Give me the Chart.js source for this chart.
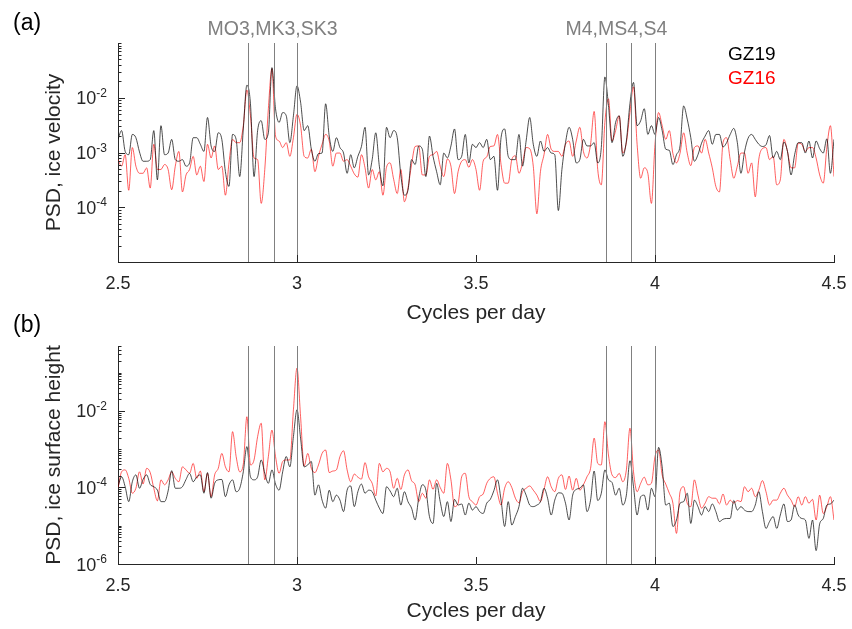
<!DOCTYPE html>
<html>
<head>
<meta charset="utf-8">
<script src="https://cdn.jsdelivr.net/npm/chart.js@4.4.1/dist/chart.umd.min.js"></script>
<style>
  html, body { margin: 0; padding: 0; background: #fff; }
  #wrap { position: relative; width: 852px; height: 629px; overflow: hidden; }
  canvas { position: absolute; left: 0; }
  #velCanvas { top: 0; }
  #hgtCanvas { top: 300px; }
</style>
</head>
<body>
<div id="wrap">
  <canvas id="velCanvas" width="852" height="330"></canvas>
  <canvas id="hgtCanvas" width="852" height="329"></canvas>
</div>
<script>
// ── Frequency grid (cycles per day) ──────────────────────────────
const FREQ_START = 2.5, FREQ_STEP = 0.01, N_FREQ = 201;
const freqs = Array.from({ length: N_FREQ }, (_, i) => +(FREQ_START + i * FREQ_STEP).toFixed(2));

// ── log10(PSD) ───────────────────────────────────────────────────
// (a) ice velocity
const velGZ19 = [
  -2.76,-2.60,-2.98,-3.04,-2.67,-2.73,-2.99,-3.16,-3.16,-3.13,
  -2.60,-3.50,-2.51,-3.04,-3.01,-2.76,-3.13,-3.16,-3.13,-3.25,
  -3.19,-2.73,-2.73,-2.85,-2.98,-2.36,-2.88,-2.98,-2.64,-2.76,
  -3.35,-3.62,-2.67,-2.76,-3.44,-2.57,-1.77,-2.11,-3.44,-2.60,
  -2.42,-2.76,-2.64,-1.45,-2.20,-2.45,-2.27,-2.33,-2.82,-2.33,
  -1.78,-2.08,-2.60,-2.51,-2.94,-3.16,-3.02,-3.01,-2.11,-2.70,
  -2.98,-2.73,-2.91,-3.01,-3.38,-3.04,-3.28,-3.07,-2.89,-2.54,
  -3.41,-3.13,-2.64,-3.25,-3.61,-2.54,-2.73,-2.60,-2.73,-3.41,
  -3.78,-3.69,-3.13,-3.22,-2.88,-2.94,-3.44,-2.70,-3.07,-3.35,
  -3.59,-3.01,-3.10,-2.88,-2.57,-3.13,-3.07,-2.67,-3.19,-2.85,
  -2.91,-2.82,-2.91,-2.76,-3.13,-3.07,-3.69,-2.73,-2.57,-3.07,
  -3.13,-3.13,-2.67,-3.25,-2.79,-2.36,-2.85,-3.07,-2.79,-2.98,
  -2.91,-3.01,-3.04,-4.06,-3.31,-2.82,-2.54,-2.76,-3.19,-3.13,
  -2.76,-2.88,-2.88,-2.82,-3.19,-2.91,-1.62,-2.14,-2.82,-2.45,
  -2.33,-3.07,-2.79,-2.11,-1.72,-2.51,-2.42,-2.20,-2.67,-2.51,
  -2.67,-2.36,-2.60,-2.94,-2.96,-3.22,-3.04,-2.88,-2.15,-2.39,
  -2.73,-3.16,-3.04,-2.83,-2.70,-2.60,-2.85,-2.67,-2.67,-2.90,
  -2.82,-2.67,-2.56,-2.82,-3.38,-2.99,-2.74,-2.67,-2.76,-2.85,
  -2.89,-2.86,-2.69,-3.10,-2.98,-3.13,-2.81,-2.98,-3.41,-3.04,
  -2.82,-2.82,-3.01,-2.79,-3.10,-2.79,-2.93,-3.01,-2.75,-3.38,
  -2.76
];
const velGZ16 = [
  -3.13,-3.25,-3.04,-3.69,-2.91,-3.25,-3.38,-3.38,-3.28,-3.65,
  -2.85,-3.31,-3.31,-3.22,-3.31,-3.68,-3.25,-2.98,-3.72,-3.41,
  -3.31,-3.07,-3.41,-3.25,-3.53,-2.85,-3.10,-2.88,-3.31,-3.25,
  -3.78,-3.19,-2.76,-2.82,-2.82,-2.51,-1.86,-2.33,-3.10,-3.13,
  -3.93,-3.31,-2.20,-1.47,-2.70,-2.79,-2.91,-2.82,-3.07,-2.73,
  -2.30,-2.51,-3.07,-3.10,-2.94,-3.35,-3.07,-2.85,-2.67,-2.79,
  -3.25,-3.01,-3.01,-3.16,-3.13,-3.25,-3.39,-3.45,-3.04,-3.28,
  -3.65,-3.31,-3.50,-3.35,-3.78,-3.27,-3.19,-3.49,-3.75,-3.31,
  -3.90,-3.65,-3.22,-2.89,-2.88,-3.41,-3.41,-3.07,-3.04,-2.98,
  -3.25,-3.44,-3.12,-3.25,-3.75,-3.35,-3.16,-3.13,-3.27,-3.13,
  -3.31,-3.69,-3.16,-3.08,-2.89,-2.88,-2.67,-3.22,-3.56,-3.56,
  -3.13,-3.06,-3.38,-3.19,-2.91,-2.93,-3.25,-4.12,-3.35,-3.04,
  -2.67,-2.94,-2.98,-2.98,-3.07,-2.85,-2.79,-3.07,-2.79,-2.54,
  -2.98,-3.10,-2.85,-2.25,-3.31,-3.59,-2.45,-2.02,-2.79,-2.60,
  -2.33,-3.01,-2.82,-2.27,-1.80,-2.85,-3.47,-3.28,-3.38,-3.93,
  -2.85,-2.27,-2.51,-2.76,-2.60,-3.02,-3.19,-3.01,-2.64,-3.01,
  -3.24,-2.91,-2.88,-3.01,-2.76,-3.01,-3.28,-3.62,-3.72,-2.82,
  -2.73,-3.13,-3.47,-3.25,-3.01,-3.01,-3.38,-3.19,-3.81,-3.12,
  -2.93,-2.91,-3.13,-3.07,-3.59,-3.50,-2.76,-2.98,-3.28,-3.28,
  -2.83,-2.85,-2.98,-2.91,-2.91,-3.10,-3.41,-3.56,-2.91,-2.51,
  -3.44
];
// (b) ice surface height
const hgtGZ19 = [
  -3.98,-3.72,-3.98,-4.37,-3.85,-3.67,-4.02,-3.79,-3.67,-3.92,
  -3.98,-4.07,-4.37,-4.37,-4.09,-3.56,-4.02,-4.02,-3.98,-3.79,
  -3.63,-3.85,-3.72,-3.67,-4.15,-3.61,-4.28,-3.89,-3.80,-3.79,
  -4.24,-3.93,-3.80,-4.11,-4.02,-3.59,-2.93,-3.72,-3.80,-3.72,
  -3.28,-3.63,-3.89,-3.54,-3.91,-4.07,-3.59,-3.19,-3.46,-2.67,
  -1.97,-2.71,-3.46,-3.41,-3.32,-4.20,-3.93,-4.33,-4.54,-4.07,
  -4.37,-4.20,-4.33,-4.63,-4.07,-3.96,-4.50,-4.11,-3.91,-4.15,
  -4.07,-4.11,-4.33,-4.54,-4.68,-3.98,-4.09,-4.24,-4.02,-4.46,
  -4.11,-4.37,-4.54,-4.85,-4.28,-3.93,-4.07,-4.76,-4.94,-3.89,
  -4.37,-4.76,-4.37,-4.89,-4.31,-4.46,-4.43,-4.72,-4.41,-4.59,
  -4.50,-4.63,-4.68,-4.41,-4.31,-4.08,-3.80,-4.33,-5.02,-4.37,
  -4.98,-4.76,-4.50,-4.02,-4.20,-4.46,-4.50,-4.46,-4.37,-4.02,
  -4.28,-4.72,-4.33,-4.14,-4.15,-4.41,-4.85,-4.20,-4.05,-4.02,
  -3.93,-4.63,-4.33,-3.57,-4.34,-4.15,-3.54,-3.80,-3.87,-4.20,
  -4.02,-4.46,-4.20,-3.30,-3.98,-4.72,-4.24,-4.20,-4.59,-4.02,
  -4.24,-2.95,-3.46,-4.46,-4.41,-5.02,-4.85,-4.41,-4.37,-4.15,
  -4.94,-4.33,-4.50,-4.72,-4.50,-4.63,-4.43,-4.63,-4.89,-4.83,
  -4.81,-4.81,-4.34,-4.59,-4.50,-4.59,-4.63,-4.63,-4.46,-4.11,
  -4.63,-5.07,-4.89,-4.76,-5.07,-4.72,-4.43,-4.89,-4.85,-4.46,
  -4.72,-4.81,-4.85,-5.33,-4.85,-5.65,-4.95,-4.81,-4.46,-4.43,
  -4.33
];
const hgtGZ16 = [
  -4.02,-3.59,-3.54,-3.76,-4.15,-4.02,-3.59,-3.91,-3.50,-3.61,
  -4.02,-4.35,-3.80,-3.93,-3.80,-3.59,-3.76,-3.85,-3.46,-3.54,
  -3.63,-3.37,-3.76,-3.57,-4.11,-3.63,-4.24,-3.67,-3.50,-3.11,
  -3.46,-3.59,-2.54,-3.19,-3.59,-3.39,-2.15,-3.41,-3.28,-2.67,
  -2.32,-3.80,-3.19,-2.50,-3.19,-3.63,-3.32,-3.28,-3.28,-1.97,
  -0.88,-2.15,-3.44,-3.11,-3.50,-3.61,-3.41,-3.11,-3.02,-3.61,
  -3.57,-3.54,-3.19,-3.04,-3.54,-3.85,-3.65,-3.73,-3.78,-3.35,
  -3.72,-3.89,-4.22,-3.37,-3.59,-3.50,-3.59,-4.02,-3.76,-4.05,
  -3.67,-3.54,-3.82,-3.93,-4.37,-4.15,-4.28,-3.80,-4.05,-3.80,
  -4.00,-4.15,-3.37,-3.80,-4.50,-4.41,-3.72,-3.63,-4.24,-4.37,
  -4.46,-4.24,-4.17,-3.89,-3.76,-3.72,-4.15,-4.46,-4.02,-3.85,
  -4.00,-4.28,-4.40,-4.11,-4.02,-3.96,-4.07,-4.20,-4.37,-4.05,
  -3.72,-3.98,-4.11,-3.76,-3.67,-4.05,-3.70,-4.07,-3.76,-4.07,
  -3.93,-3.72,-3.50,-2.71,-3.37,-3.41,-2.28,-3.15,-3.67,-3.74,
  -3.63,-3.85,-3.54,-2.45,-3.59,-4.11,-3.89,-3.73,-3.93,-3.89,
  -3.19,-3.02,-3.67,-3.91,-4.15,-4.41,-5.20,-4.11,-3.98,-4.41,
  -4.50,-3.80,-4.20,-4.54,-4.41,-4.24,-4.28,-4.28,-4.43,-4.17,
  -4.46,-4.33,-4.41,-4.34,-4.37,-3.98,-4.11,-4.02,-4.24,-4.07,
  -3.82,-4.11,-4.46,-4.33,-4.33,-4.15,-4.02,-4.20,-4.33,-4.50,
  -4.24,-4.46,-4.24,-4.41,-4.31,-4.85,-4.20,-4.68,-4.50,-4.24,
  -4.85
];

// ── Tidal constituents, ticks, labels ────────────────────────────
const tideFreqs = [2.8632, 2.9350, 3.0, 3.8640, 3.9318, 4.0];
const tideLabels = ['MO3,MK3,SK3', 'M4,MS4,S4'];
const tideLabelFreqs = [2.75, 3.75];
const xTicks = [2.5, 3, 3.5, 4, 4.5];
const velExpLabels = [-4, -3, -2];
const hgtExpLabels = [-6, -4, -2];
const seriesNames = ['GZ19', 'GZ16'];

const AXIS = '#262626';
const FONT = '"Liberation Sans", Arial, sans-serif';
Chart.defaults.font.family = FONT;

const toPoints = (vals) => freqs.map((f, i) => ({ x: f, y: Math.pow(10, vals[i]) }));

// ── Plugin: tidal lines, inward ticks, superscript labels, text ──
const decor = {
    id: 'decor',
    afterDatasetsDraw(chart, args, opts) {
        const { ctx, chartArea: a, scales: { x, y } } = chart;
        ctx.save();

        // tidal constituent lines
        ctx.strokeStyle = '#808080';
        ctx.lineWidth = 1;
        for (const f of tideFreqs) {
            const px = Math.round(x.getPixelForValue(f)) + 0.5;
            ctx.beginPath(); ctx.moveTo(px, a.top); ctx.lineTo(px, a.bottom); ctx.stroke();
        }

        // inward ticks
        ctx.strokeStyle = AXIS;
        for (const v of xTicks) {
            const px = Math.round(x.getPixelForValue(v)) + 0.5;
            ctx.beginPath(); ctx.moveTo(px, a.bottom); ctx.lineTo(px, a.bottom - 7); ctx.stroke();
        }
        const lo = Math.floor(Math.log10(y.min)), hi = Math.ceil(Math.log10(y.max));
        for (let d = lo; d <= hi; d++) {
            for (let m = 1; m < 10; m++) {
                const v = m * Math.pow(10, d);
                if (v < y.min * 0.999 || v > y.max * 1.001) continue;
                const py = Math.round(y.getPixelForValue(v)) + 0.5;
                const len = (m === 1 && opts.expLabels.includes(d)) ? 7 : 3.5;
                ctx.beginPath(); ctx.moveTo(a.left, py); ctx.lineTo(a.left + len, py); ctx.stroke();
            }
        }

        // y tick labels: 10 with superscript exponent
        ctx.fillStyle = AXIS;
        ctx.textBaseline = 'alphabetic';
        for (const e of opts.expLabels) {
            const py = y.getPixelForValue(Math.pow(10, e));
            const right = a.left - 11;
            ctx.font = '12px ' + FONT;
            const expTxt = String(e);
            const wExp = ctx.measureText(expTxt).width;
            ctx.textAlign = 'left';
            ctx.fillText(expTxt, right - wExp, py - 1);
            ctx.font = '18px ' + FONT;
            ctx.textAlign = 'right';
            ctx.fillText('10', right - wExp, py + 6.5);
        }

        // panel letter
        ctx.font = '23px ' + FONT;
        ctx.textAlign = 'left';
        ctx.fillStyle = '#000';
        ctx.fillText(opts.letter, 13, opts.letterY);

        if (opts.showText) {
            ctx.font = '19.5px ' + FONT;
            ctx.fillStyle = '#808080';
            tideLabels.forEach((t, i) => ctx.fillText(t, x.getPixelForValue(tideLabelFreqs[i]), 35));
            ctx.font = '19px ' + FONT;
            ctx.fillStyle = '#000';
            ctx.fillText(seriesNames[0], 728, 60);
            ctx.fillStyle = '#ff0000';
            ctx.fillText(seriesNames[1], 728, 84);
        }
        ctx.restore();
    },
};

function makeChart(canvas, series19, series16, cfg) {
    return new Chart(canvas, {
        type: 'line',
        plugins: [decor],
        data: {
            datasets: [
                {
                    label: seriesNames[0],
                    data: toPoints(series19),
                    borderColor: 'rgba(0,0,0,0.78)',
                    borderWidth: 0.9,
                    pointRadius: 0,
                    cubicInterpolationMode: 'monotone',
                },
                {
                    label: seriesNames[1],
                    data: toPoints(series16),
                    borderColor: 'rgba(255,0,0,0.7)',
                    borderWidth: 0.9,
                    pointRadius: 0,
                    cubicInterpolationMode: 'monotone',
                },
            ],
        },
        options: {
            responsive: false,
            animation: false,
            devicePixelRatio: 1,
            events: [],
            layout: { padding: { top: cfg.padTop, right: 18, bottom: cfg.padBottom, left: 0 } },
            plugins: {
                legend: { display: false },
                tooltip: { enabled: false },
                decor: { letter: cfg.letter, letterY: cfg.letterY, expLabels: cfg.expLabels, showText: cfg.showText },
            },
            scales: {
                x: {
                    type: 'linear',
                    min: 2.5,
                    max: 4.5,
                    afterBuildTicks: (s) => { s.ticks = xTicks.map(v => ({ value: v })); },
                    afterFit: (s) => { s.height = cfg.xHeight; s.paddingLeft = 0; s.paddingRight = 0; },
                    grid: { display: false, drawTicks: false },
                    border: { display: true, color: AXIS, width: 1 },
                    ticks: {
                        color: AXIS,
                        font: { size: 18 },
                        padding: 11,
                        maxRotation: 0,
                        autoSkip: false,
                        callback: (v) => String(v),
                    },
                    title: {
                        display: true,
                        text: 'Cycles per day',
                        color: AXIS,
                        font: { size: 21, lineHeight: 1 },
                        padding: { top: 0, bottom: 0 },
                    },
                },
                y: {
                    type: 'logarithmic',
                    min: cfg.yMin,
                    max: cfg.yMax,
                    afterFit: (s) => { s.width = 118; s.paddingTop = 0; s.paddingBottom = 0; },
                    grid: { display: false, drawTicks: false },
                    border: { display: true, color: AXIS, width: 1 },
                    ticks: { display: false },
                    title: {
                        display: true,
                        text: cfg.yTitle,
                        color: AXIS,
                        font: { size: 21, lineHeight: 1 },
                        padding: { top: 44, bottom: 0 },
                    },
                },
            },
        },
    });
}

makeChart(document.getElementById('velCanvas'), velGZ19, velGZ16, {
    padTop: 43, padBottom: 6.5, xHeight: 61.5,
    yMin: 1e-5, yMax: 1e-1, yTitle: 'PSD, ice velocity',
    expLabels: velExpLabels, letter: '(a)', letterY: 30, showText: true,
});

makeChart(document.getElementById('hgtCanvas'), hgtGZ19, hgtGZ16, {
    padTop: 46, padBottom: 7.5, xHeight: 57.5,
    yMin: 1e-6, yMax: 0.5, yTitle: 'PSD, ice surface height',
    expLabels: hgtExpLabels, letter: '(b)', letterY: 31.5, showText: false,
});
</script>
</body>
</html>
